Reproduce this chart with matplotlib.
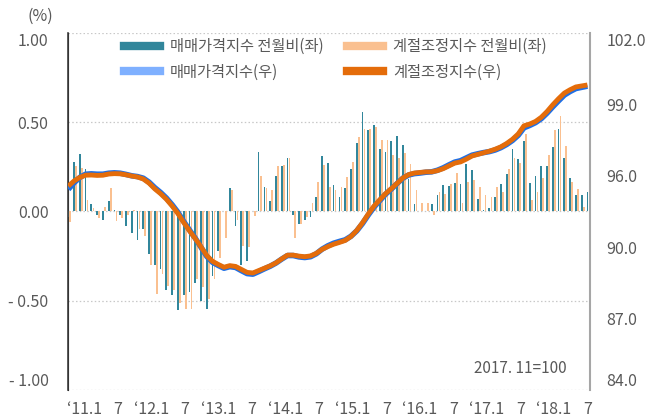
import matplotlib
matplotlib.use('Agg')
import matplotlib.pyplot as plt
from matplotlib.lines import Line2D
import numpy as np

plt.rcParams['font.family'] = ['Noto Sans CJK KR', 'DejaVu Sans']
plt.rcParams['font.weight'] = 'light'

# monthly data, 2011.1 ~ 2018.7
months = [f'{y}.{m}' for y in range(2011, 2019) for m in range(1, 13)][:91]

# 매매가격지수 전월비 (%)
price_mom = [-0.03, 0.28, 0.32, 0.24, 0.04, -0.02, -0.05, 0.06, 0.01, -0.02,
             -0.08, -0.12, -0.16, -0.10, -0.24, -0.30, -0.32, -0.44, -0.47, -0.55,
             -0.47, -0.45, -0.40, -0.50, -0.545, -0.36, -0.22, 0.00, 0.13, -0.08,
             -0.30, -0.28, 0.00, 0.333, 0.14, 0.06, 0.20, 0.253, 0.30, -0.02,
             -0.07, -0.05, -0.03, 0.08, 0.31, 0.27, 0.15, 0.08, 0.13, 0.24,
             0.384, 0.556, 0.455, 0.485, 0.352, 0.333, 0.393, 0.425, 0.375, 0.18,
             0.04, 0.00, 0.00, 0.04, 0.09, 0.15, 0.142, 0.16, 0.152, 0.264,
             0.234, 0.07, 0.01, 0.02, 0.082, 0.152, 0.21, 0.352, 0.292, 0.393,
             0.157, 0.197, 0.253, 0.257, 0.36, 0.46, 0.30, 0.187, 0.095, 0.09,
             0.107]

# 계절조정지수 전월비 (%)
sa_mom = [-0.06, 0.253, 0.245, 0.067, 0.019, -0.036, 0.024, 0.133, -0.052, -0.036,
          -0.02, 0.01, -0.097, -0.139, -0.30, -0.46, -0.35, -0.415, -0.44, -0.515,
          -0.547, -0.547, -0.38, -0.425, -0.49, -0.38, -0.26, -0.15, 0.118, -0.047,
          -0.195, -0.20, -0.028, 0.197, 0.133, 0.12, 0.253, 0.26, 0.30, -0.148,
          -0.07, -0.03, 0.05, 0.165, 0.26, 0.135, 0.12, 0.14, 0.195, 0.28,
          0.418, 0.46, 0.464, 0.472, 0.40, 0.40, 0.315, 0.30, 0.326, 0.268,
          0.118, 0.05, 0.047, -0.022, 0.112, 0.10, 0.152, 0.215, 0.05, 0.163,
          0.174, 0.138, 0.095, 0.082, 0.138, 0.107, 0.238, 0.30, 0.27, 0.433,
          0.062, 0.112, 0.185, 0.318, 0.455, 0.534, 0.365, 0.163, 0.124, 0.024,
          0.07]

# 매매가격지수 (2017.11=100)
price_idx = [94.12, 94.45, 94.72, 94.88, 94.90, 94.88, 94.88, 94.93, 94.95, 94.93,
             94.87, 94.80, 94.76, 94.68, 94.48, 94.20, 93.96, 93.68, 93.34, 92.96,
             92.50, 92.07, 91.66, 91.20, 90.74, 90.44, 90.28, 90.14, 90.22, 90.18,
             90.02, 89.87, 89.84, 89.97, 90.11, 90.24, 90.40, 90.60, 90.78, 90.78,
             90.71, 90.68, 90.72, 90.87, 91.10, 91.27, 91.40, 91.49, 91.57, 91.75,
             92.02, 92.39, 92.82, 93.22, 93.55, 93.87, 94.13, 94.41, 94.68, 94.84,
             94.91, 94.94, 94.98, 95.00, 95.08, 95.20, 95.35, 95.49, 95.56, 95.70,
             95.84, 95.91, 95.97, 96.02, 96.10, 96.22, 96.38, 96.58, 96.84, 97.22,
             97.34, 97.48, 97.68, 97.96, 98.28, 98.58, 98.87, 99.05, 99.20, 99.26,
             99.32]

# 계절조정지수
sa_idx = [94.28, 94.54, 94.72, 94.83, 94.84, 94.82, 94.83, 94.89, 94.91, 94.90,
          94.85, 94.79, 94.74, 94.64, 94.43, 94.14, 93.90, 93.62, 93.28, 92.90,
          92.45, 92.03, 91.64, 91.22, 90.78, 90.49, 90.33, 90.19, 90.27, 90.23,
          90.08, 89.93, 89.90, 90.02, 90.14, 90.26, 90.41, 90.61, 90.80, 90.80,
          90.75, 90.72, 90.76, 90.89, 91.09, 91.23, 91.35, 91.44, 91.54, 91.74,
          92.04, 92.43, 92.87, 93.27, 93.59, 93.90, 94.15, 94.42, 94.69, 94.86,
          94.94, 94.97, 95.00, 95.00, 95.06, 95.16, 95.30, 95.44, 95.50, 95.64,
          95.80, 95.88, 95.96, 96.04, 96.14, 96.26, 96.43, 96.64, 96.91, 97.32,
          97.41, 97.54, 97.75, 98.04, 98.38, 98.69, 98.97, 99.14, 99.28, 99.33,
          99.38]

xlabels = ['\u201811.1', '7', '\u201812.1', '7', '\u201813.1', '7', '\u201814.1', '7',
           '\u201815.1', '7', '\u201816.1', '7', '\u201817.1', '7', '\u201818.1', '7']
left_labels = ['- 1.00', '- 0.50', '0.00', '0.50', '1.00']
right_labels = ['84.0', '87.0', '90.0', '96.0', '99.0', '102.0']

c_teal = '#31869b'
c_lorange = '#fac090'
c_blue = '#1f6fe5'
c_blue_leg = '#7fb0ff'
c_orange = '#e46c0a'
c_text = '#595959'

fig = plt.figure(figsize=(6.56, 4.19), dpi=100)
ax = fig.add_axes([68 / 656, 1 - 390 / 419, 522 / 656, 357 / 419])
ax2 = ax.twinx()

x = np.arange(len(months))
ax.bar(x, price_mom, width=0.3, color=c_teal, zorder=3)
ax.bar(x + 0.35, sa_mom, width=0.3, color=c_lorange, zorder=3)

ax2.plot(x, price_idx, color=c_blue, lw=4.0, solid_capstyle='butt', zorder=3)
ax2.plot(x, sa_idx, color=c_orange, lw=3.5, solid_capstyle='butt', zorder=4)

ax.set_xlim(-0.05, 90.45)
ax.set_ylim(-1, 1)
ax2.set_ylim(84, 102)

left_ticks = [-1, -0.5, 0, 0.5, 1]
ax.set_yticks(left_ticks)
ax.set_yticklabels(left_labels)
ll = ax.get_yticklabels()
ll[0].set_va('bottom')
ll[-1].set_va('top')
for yv in left_ticks:
    ax.axhline(yv, color='#c8c8c8', lw=0.9, ls=(0, (1.2, 1.8)), zorder=1)

ax2.set_yticks(np.linspace(84, 102, 6))
ax2.set_yticklabels(right_labels)
rl = ax2.get_yticklabels()
rl[0].set_va('bottom')
rl[-1].set_va('top')

xt = np.linspace(2.8, 90, len(xlabels))
ax.set_xticks(xt)
ax.set_xticklabels(xlabels)

ax.tick_params(axis='y', length=0, pad=14, labelsize=11.5, labelcolor=c_text)
ax.tick_params(axis='x', length=0, pad=8, labelsize=11.5, labelcolor=c_text)
ax2.tick_params(axis='y', length=0, pad=12, labelsize=11.5, labelcolor=c_text)

for a in (ax, ax2):
    a.spines['top'].set_visible(False)
    a.spines['bottom'].set_visible(False)
ax.spines['right'].set_visible(False)
ax2.spines['left'].set_color('#404040')
ax2.spines['left'].set_linewidth(1.2)
ax2.spines['right'].set_color('#a6a6a6')
ax2.spines['right'].set_linewidth(1.5)

fig.text(53 / 656, 1 - 16 / 419, '(%)', ha='right', va='center', fontsize=11.5, color=c_text)
ax.text(0.955, 0.06, '2017. 11=100', transform=ax.transAxes, ha='right', va='center',
        fontsize=11, color=c_text)

handles = [Line2D([], [], color=c_teal, lw=6), Line2D([], [], color=c_blue_leg, lw=6),
           Line2D([], [], color=c_lorange, lw=6), Line2D([], [], color=c_orange, lw=6)]
labels = ['매매가격지수 전월비(좌)', '매매가격지수(우)', '계절조정지수 전월비(좌)', '계절조정지수(우)']
leg = ax2.legend(handles, labels, ncol=2, loc='upper left', frameon=False,
                 bbox_to_anchor=(124 / 656, 1 - 38 / 419), bbox_transform=fig.transFigure,
                 borderpad=0, borderaxespad=0, handlelength=2.35, handletextpad=0.65,
                 columnspacing=1.55, labelspacing=0.55, fontsize=11)
for t in leg.get_texts():
    t.set_color(c_text)

plt.savefig('out.png', dpi=100)
plt.close()
